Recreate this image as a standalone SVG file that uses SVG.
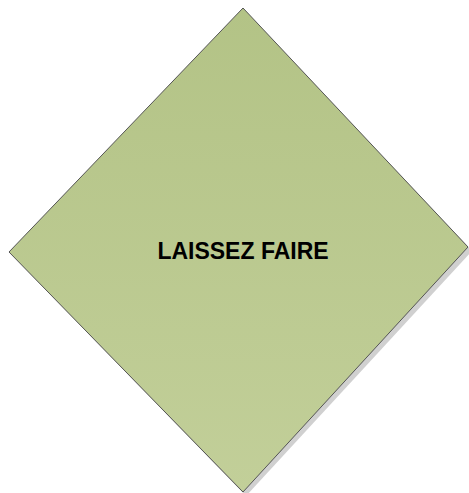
<svg xmlns="http://www.w3.org/2000/svg" width="469" height="493" viewBox="0 0 469 493">
<defs>
<linearGradient id="g" x1="0" y1="0" x2="0" y2="1">
<stop offset="0" stop-color="#b3c386"/>
<stop offset="1" stop-color="#c2cf99"/>
</linearGradient>
<style>.t{font-family:"Liberation Sans",Arial,sans-serif;font-weight:bold;font-size:23px;fill:#000}</style>
</defs>
<g id="node-laissez-faire">
<polygon points="246,12 472,251 246,496 12,255" fill="#d0d0d0"/>
<polygon points="243,8 468,247 243,492 9,252" fill="url(#g)" stroke="#555" stroke-width="1"/>
<text class="t" x="243" y="259" text-anchor="middle">LAISSEZ FAIRE</text>
</g>
<g id="connectors"/>
</svg>
